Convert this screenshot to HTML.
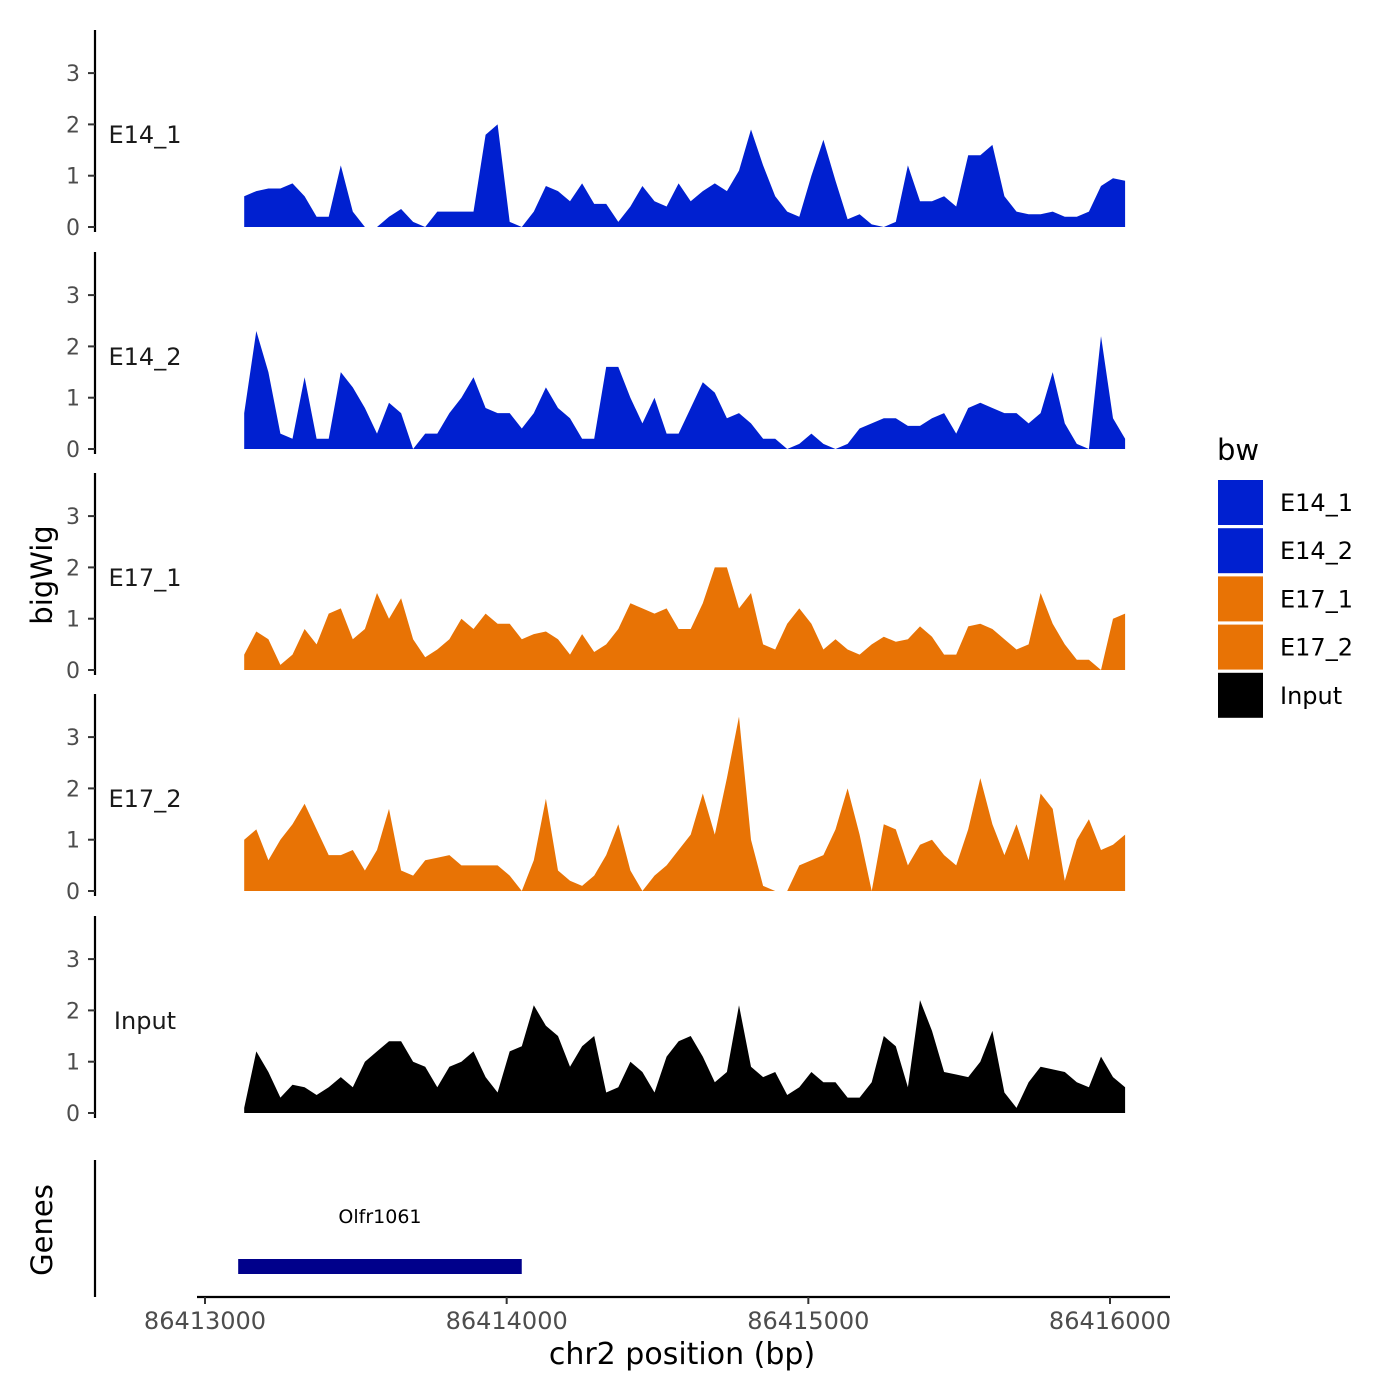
<!DOCTYPE html>
<html><head><meta charset="utf-8"><style>
html,body{margin:0;padding:0;background:#fff}
svg{display:block;font-family:"DejaVu Sans","Liberation Sans",sans-serif}
</style></head><body>
<svg id="c" width="1400" height="1400" xmlns="http://www.w3.org/2000/svg"></svg>
<script>
const startBp = 86413130;
const stepBp = 40;
const trackNames = ["E14_1","E14_2","E17_1","E17_2","Input"];
const trackColors = ["#0020D0","#0020D0","#E87305","#E87305","#000000"];
const e14_1 = [0.6,0.7,0.75,0.75,0.85,0.6,0.2,0.2,1.2,0.3,null,null,0.2,0.35,0.1,null,0.3,0.3,0.3,0.3,1.8,2.0,0.1,null,0.3,0.8,0.7,0.5,0.85,0.45,0.45,0.1,0.4,0.8,0.5,0.4,0.85,0.5,0.7,0.85,0.7,1.1,1.9,1.2,0.6,0.3,0.2,1.0,1.7,0.9,0.15,0.25,0.05,null,0.1,1.2,0.5,0.5,0.6,0.4,1.4,1.4,1.6,0.6,0.3,0.25,0.25,0.3,0.2,0.2,0.3,0.8,0.95,0.9];
const e14_2 = [0.7,2.3,1.5,0.3,0.2,1.4,0.2,0.2,1.5,1.2,0.8,0.3,0.9,0.7,0.0,0.3,0.3,0.7,1.0,1.4,0.8,0.7,0.7,0.4,0.7,1.2,0.8,0.6,0.2,0.2,1.6,1.6,1.0,0.5,1.0,0.3,0.3,0.8,1.3,1.1,0.6,0.7,0.5,0.2,0.2,0.0,0.1,0.3,0.1,null,0.1,0.4,0.5,0.6,0.6,0.45,0.45,0.6,0.7,0.3,0.8,0.9,0.8,0.7,0.7,0.5,0.7,1.5,0.5,0.1,null,2.2,0.6,0.2];
const e17_1 = [0.3,0.75,0.6,0.1,0.3,0.8,0.5,1.1,1.2,0.6,0.8,1.5,1.0,1.4,0.6,0.25,0.4,0.6,1.0,0.8,1.1,0.9,0.9,0.6,0.7,0.75,0.6,0.3,0.7,0.35,0.5,0.8,1.3,1.2,1.1,1.2,0.8,0.8,1.3,2.0,2.0,1.2,1.5,0.5,0.4,0.9,1.2,0.9,0.4,0.6,0.4,0.3,0.5,0.65,0.55,0.6,0.85,0.65,0.3,0.3,0.85,0.9,0.8,0.6,0.4,0.5,1.5,0.9,0.5,0.2,0.2,0.0,1.0,1.1];
const e17_2 = [1.0,1.2,0.6,1.0,1.3,1.7,1.2,0.7,0.7,0.8,0.4,0.8,1.6,0.4,0.3,0.6,0.65,0.7,0.5,0.5,0.5,0.5,0.3,null,0.6,1.8,0.4,0.2,0.1,0.3,0.7,1.3,0.4,null,0.3,0.5,0.8,1.1,1.9,1.1,2.2,3.4,1.0,0.1,null,null,0.5,0.6,0.7,1.2,2.0,1.1,0.0,1.3,1.2,0.5,0.9,1.0,0.7,0.5,1.2,2.2,1.3,0.7,1.3,0.6,1.9,1.6,0.2,1.0,1.4,0.8,0.9,1.1];
const input = [0.1,1.2,0.8,0.3,0.55,0.5,0.35,0.5,0.7,0.5,1.0,1.2,1.4,1.4,1.0,0.9,0.5,0.9,1.0,1.2,0.7,0.4,1.2,1.3,2.1,1.7,1.5,0.9,1.3,1.5,0.4,0.5,1.0,0.8,0.4,1.1,1.4,1.5,1.1,0.6,0.8,2.1,0.9,0.7,0.8,0.35,0.5,0.8,0.6,0.6,0.3,0.3,0.6,1.5,1.3,0.5,2.2,1.6,0.8,0.75,0.7,1.0,1.6,0.4,0.1,0.6,0.9,0.85,0.8,0.6,0.5,1.1,0.7,0.5];
const trackData = [e14_1,e14_2,e17_1,e17_2,input];
const yTicks = [0,1,2,3];
const xTicks = [86413000,86414000,86415000,86416000];
const xTickLabels = ["86413000","86414000","86415000","86416000"];
const geneName = "Olfr1061";
const geneStart = 86413110;
const geneEnd = 86414050;

const svg = document.getElementById('c');
const NS = "http://www.w3.org/2000/svg";
function xs(bp){ return 205 + (bp - 86413000) * (905/3000); }
const bases = [227,449,670,891,1113];
function ys(i,v){ return bases[i] - v*51.3; }
function mk(tag, attrs, parent){ const e=document.createElementNS(NS,tag); for(const k in attrs) e.setAttribute(k,attrs[k]); (parent||svg).appendChild(e); return e; }

for(let i=0;i<5;i++){
  const g = mk('g',{});
  
  
  const axis = mk('line',{x1:95,x2:95,y1:bases[i]-197,y2:bases[i]+5,stroke:'#000','stroke-width':2.2},g);
  
  
  yTicks.forEach(t=>{
    const y=ys(i,t);
    const tk=mk('line',{x1:88,x2:95,y1:y,y2:y,stroke:'#333','stroke-width':2},g);
    
    
    const tl=mk('text',{x:80,y:y+8,'text-anchor':'end','font-size':22,fill:'#4d4d4d'},g);
    tl.textContent=t;
    
    
  });
  const lab=mk('text',{x:145,y:bases[i]-84,'text-anchor':'middle','font-size':24,fill:'#1a1a1a'},g);
  lab.textContent=trackNames[i];
  
  
  const d=trackData[i];
  let p='M'+xs(startBp).toFixed(1)+','+bases[i];
  d.forEach((v,j)=>{ const val=(v===null)?0:v; p+=' L'+xs(startBp+j*stepBp).toFixed(1)+','+ys(i,val).toFixed(1); });
  p+=' L'+xs(startBp+(d.length-1)*stepBp).toFixed(1)+','+bases[i]+' Z';
  const a=mk('path',{d:p,fill:trackColors[i],'stroke-linejoin':'round'},g);
  
  
}
const ga=mk('line',{x1:95,x2:95,y1:1160,y2:1297,stroke:'#000','stroke-width':2.2});


const gb=mk('rect',{x:xs(geneStart),y:1259,width:xs(geneEnd)-xs(geneStart),height:15,fill:'#00008B'});


const gl=mk('text',{x:(xs(geneStart)+xs(geneEnd))/2,y:1223,'text-anchor':'middle','font-size':19,fill:'#000'});
gl.textContent=geneName;


const xa=mk('line',{x1:197,x2:1170,y1:1297,y2:1297,stroke:'#000','stroke-width':2.2});


xTicks.forEach((t,k)=>{
  const x=xs(t);
  const tk=mk('line',{x1:x,x2:x,y1:1297,y2:1304,stroke:'#333','stroke-width':2});
  
  
  const tl=mk('text',{x:x,y:1329,'text-anchor':'middle','font-size':24,fill:'#4d4d4d'});
  tl.textContent=xTickLabels[k];
  
  
});
trackNames.forEach((n,k)=>{
  const y=480+k*48.2;
  const r=mk('rect',{x:1218,y:y,width:45,height:45,fill:trackColors[k]});
  
  
  const t=mk('text',{x:1280,y:y+31,'font-size':24,fill:'#000'});
  t.textContent=n;
  
  
});
</script>
<div style="position:absolute;left:0;top:0;width:1400px;height:1400px;pointer-events:none">
<svg width="1400" height="1400" style="position:absolute;left:0;top:0;font-family:'DejaVu Sans','Liberation Sans',sans-serif">
<text x="1217" y="460" font-size="29" fill="#000">bw</text>
<text transform="translate(52,575) rotate(-90)" text-anchor="middle" font-size="29" fill="#000">bigWig</text>
<text transform="translate(52,1230) rotate(-90)" text-anchor="middle" font-size="29" fill="#000">Genes</text>
<text x="682" y="1364" text-anchor="middle" font-size="30" fill="#000">chr2 position (bp)</text>
</svg></div>
</body></html>
